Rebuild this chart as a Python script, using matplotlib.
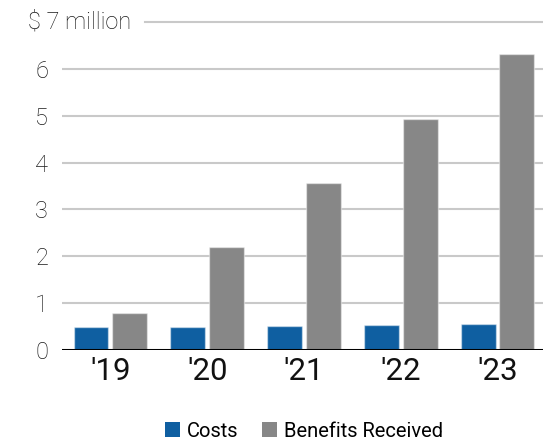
import numpy as np
import matplotlib.pyplot as plt
from matplotlib.patches import Patch
from matplotlib.transforms import blended_transform_factory

# Data (values in $ million)
years = ["'19", "'20", "'21", "'22", "'23"]
costs = [0.49, 0.49, 0.51, 0.53, 0.55]
benefits = [0.80, 2.19, 3.57, 4.94, 6.32]

blue = '#0f5fa1'
grey = '#878787'

plt.rcParams['font.family'] = ['Roboto', 'DejaVu Sans']

fig = plt.figure(figsize=(5.43, 4.40), dpi=100)
ax = fig.add_axes([62/543, 90/440, 481/543, 328/440])

x = np.arange(len(years))
w = 0.36
ax.bar(x - 0.2, costs, w, color=blue, edgecolor=(1, 1, 1, 0.45), linewidth=1, zorder=3)
ax.bar(x + 0.2, benefits, w, color=grey, edgecolor=(1, 1, 1, 0.45), linewidth=1, zorder=3)

ax.set_xlim(-0.5, 4.47)
ax.set_ylim(0, 7)

# gridlines
for v in range(1, 7):
    ax.axhline(v, color='#c9c9c9', linewidth=1.5, zorder=1)
ax.axhline(7, xmin=(145-62)/481, color='#c9c9c9', linewidth=1.5, zorder=1, clip_on=False)
ax.axhline(0, color='black', linewidth=2.2, zorder=4)

ax.set_yticks(range(7))
ax.set_yticklabels([str(v) for v in range(7)], fontsize=17, fontweight='light', color='#1a1a1a')
trans = blended_transform_factory(ax.transAxes, ax.transData)
ax.text((131-62)/481, 7, '$ 7 million', transform=trans, ha='right', va='center',
        fontsize=17, fontweight='light', color='#1a1a1a')

ax.set_xticks(x)
ax.set_xticklabels(years, fontsize=22.5, color='#111111')
ax.tick_params(axis='both', length=0)
ax.tick_params(axis='y', pad=10)
ax.tick_params(axis='x', pad=5)

for s in ax.spines.values():
    s.set_visible(False)

handles = [Patch(facecolor=blue, label='Costs'), Patch(facecolor=grey, label='Benefits Received')]
fig.legend(handles=handles, loc='center', bbox_to_anchor=(304/543, 1 - 431/440), ncol=2,
           frameon=False, fontsize=14.5, handlelength=0.75, handleheight=0.75,
           handletextpad=0.35, columnspacing=1.2)

fig.savefig('out.png', dpi=100)
